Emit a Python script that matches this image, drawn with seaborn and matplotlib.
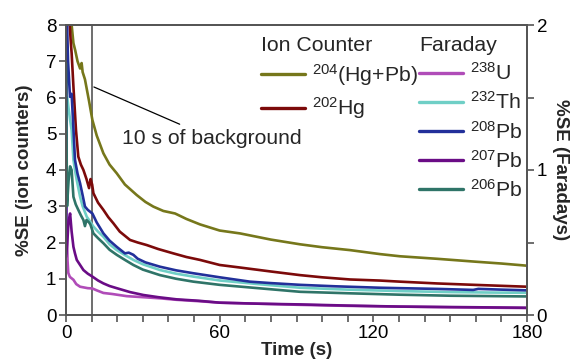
import matplotlib
matplotlib.use("Agg")
import matplotlib.pyplot as plt
from matplotlib.ticker import MultipleLocator
import seaborn as sns
import pandas as pd

# ---------------- data ----------------
# Ion counter series (left axis, %SE ion counters)
t_204 = [1.5, 2.2, 2.9, 3.6, 4.5, 5.5, 6.1, 6.5, 7.4, 8.2, 9.0, 10.3, 12, 14.6, 17, 19.8,
         23, 27.6, 31, 34.1, 38, 42.6, 47, 52.3, 60, 68, 80, 91.4, 100, 110.9, 122.6,
         130.4, 145, 160, 170, 180]
se_204 = [8.3, 8.0, 7.5, 7.3, 7.0, 6.8, 6.95, 6.7, 6.5, 6.2, 5.9, 5.38, 4.95, 4.46, 4.15,
          3.91, 3.6, 3.31, 3.12, 2.99, 2.87, 2.80, 2.65, 2.50, 2.33, 2.25, 2.08, 1.95, 1.87,
          1.79, 1.68, 1.62, 1.55, 1.47, 1.42, 1.36]

t_202 = [1.2, 1.8, 2.2, 2.9, 3.9, 4.8, 5.8, 6.8, 8.0, 9.0, 9.6, 10.2, 10.7, 12.5, 14.6,
         16.5, 18.5, 21, 25, 28, 31.5, 36, 41.9, 47, 52.3, 60, 67.9, 80, 91.4, 100, 110.9,
         122.6, 130.4, 145, 160, 180]
se_202 = [8.3, 7.6, 7.22, 6.3, 5.1, 4.37, 4.15, 4.0, 3.75, 3.5, 3.75, 3.6, 3.36, 3.1, 2.90,
          2.70, 2.53, 2.30, 2.07, 2.0, 1.93, 1.82, 1.70, 1.60, 1.52, 1.38, 1.31, 1.20, 1.10,
          1.04, 0.98, 0.95, 0.92, 0.87, 0.83, 0.78]

# Faraday series (right axis, %SE Faradays)
t_238 = [0.0, 0.3, 0.6, 0.9, 1.5, 2.9, 4.0, 5.5, 7.0, 8.5, 10.3, 12, 14.6, 18, 23.7, 30,
         36.7, 43, 52, 60, 75, 91.4, 110, 130, 150, 180]
se_238 = [1.35, 0.625, 0.375, 0.29, 0.263, 0.243, 0.213, 0.195, 0.19, 0.185, 0.183, 0.17,
          0.152, 0.145, 0.13, 0.123, 0.115, 0.105, 0.095, 0.085, 0.078, 0.07, 0.063, 0.058,
          0.053, 0.048]

t_232 = [0.5, 1.0, 1.6, 2.2, 2.9, 3.5, 4.2, 5.5, 6.5, 8.1, 9.2, 10.7, 12.5, 14.6, 17, 19.8,
         23, 26.3, 30, 36.7, 43, 49.7, 60, 75, 91.4, 110, 130.4, 150, 165, 180]
se_232 = [1.5, 1.425, 1.345, 1.275, 1.07, 1.0, 0.93, 0.815, 0.75, 0.678, 0.65, 0.61, 0.575,
          0.54, 0.488, 0.448, 0.413, 0.38, 0.35, 0.31, 0.285, 0.265, 0.238, 0.213, 0.188,
          0.175, 0.165, 0.158, 0.155, 0.153]

t_208 = [0.0, 0.3, 0.8, 1.56, 2.2, 2.6, 3.0, 3.5, 4.5, 5.5, 6.5, 7.4, 8.5, 10.3, 12, 14.6,
         17, 19.8, 23, 24.5, 26.3, 28, 31, 36.7, 43, 49.7, 60, 71.8, 80, 91.4, 105, 122.6,
         130.4, 145, 159, 161, 170, 180]
se_208 = [0.42, 2.08, 1.75, 1.505, 1.525, 1.39, 1.25, 1.07, 0.975, 0.908, 0.825, 0.748,
          0.725, 0.70, 0.638, 0.563, 0.513, 0.47, 0.425, 0.43, 0.415, 0.388, 0.363, 0.333,
          0.308, 0.288, 0.26, 0.23, 0.22, 0.208, 0.198, 0.188, 0.185, 0.18, 0.173, 0.18,
          0.175, 0.17]

t_207 = [0.0, 0.5, 1.0, 1.6, 2.2, 2.9, 3.5, 4.2, 5.5, 6.8, 8.5, 10.3, 12.5, 14.6, 17, 19.8,
         25, 30.2, 36, 43.2, 52, 60, 75, 91.4, 110, 130.4, 150, 180]
se_207 = [0.40, 0.50, 0.65, 0.70, 0.575, 0.47, 0.425, 0.38, 0.345, 0.31, 0.285, 0.265,
          0.238, 0.218, 0.20, 0.185, 0.158, 0.138, 0.123, 0.108, 0.098, 0.085, 0.078, 0.073,
          0.065, 0.058, 0.055, 0.05]

t_206 = [0.0, 0.4, 1.0, 1.6, 2.2, 2.9, 3.8, 4.8, 5.8, 6.8, 7.4, 8.0, 9.0, 9.5, 10.7, 12.5,
         14.6, 17, 19.8, 23, 26.3, 30, 36.7, 43, 49.7, 60, 75, 91.4, 110, 130.4, 150, 180]
se_206 = [1.738, 0.75, 0.925, 1.025, 1.0, 0.815, 0.763, 0.725, 0.688, 0.655, 0.613, 0.655,
          0.638, 0.625, 0.563, 0.53, 0.495, 0.45, 0.415, 0.38, 0.345, 0.313, 0.275, 0.25,
          0.23, 0.208, 0.185, 0.16, 0.15, 0.14, 0.133, 0.128]

background_end = 10  # s

ion_series = [
    ("$^{204}$(Hg+Pb)", t_204, se_204, "#76771b"),
    ("$^{202}$Hg", t_202, se_202, "#7c0a0a"),
]
far_series = [
    ("$^{238}$U", t_238, se_238, "#b04cb8"),
    ("$^{232}$Th", t_232, se_232, "#6fcfc6"),
    ("$^{208}$Pb", t_208, se_208, "#22309a"),
    ("$^{207}$Pb", t_207, se_207, "#6a0c86"),
    ("$^{206}$Pb", t_206, se_206, "#2f7468"),
]

# ---------------- style ----------------
sns.set_style("ticks")
plt.rcParams["font.family"] = ["Liberation Sans", "DejaVu Sans"]
plt.rcParams["mathtext.fontset"] = "custom"
plt.rcParams["mathtext.rm"] = "Liberation Sans"
plt.rcParams["mathtext.it"] = "Liberation Sans:italic"
plt.rcParams["mathtext.bf"] = "Liberation Sans:bold"

spine_col = "#555555"

fig = plt.figure(figsize=(5.75, 3.6), dpi=100)
ax = fig.add_axes([66 / 575, 1 - 315 / 360, (527 - 66) / 575, (315 - 25) / 360])
ax2 = ax.twinx()

lw = 1.9
ion_handles = []
for name, t, v, c in ion_series:
    df = pd.DataFrame({"t": t, "v": v})
    sns.lineplot(data=df, x="t", y="v", ax=ax, color=c, lw=lw, label=name, legend=False)
    ion_handles.append(ax.lines[-1])

far_handles = []
for name, t, v, c in far_series:
    df = pd.DataFrame({"t": t, "v": v})
    sns.lineplot(data=df, x="t", y="v", ax=ax2, color=c, lw=lw, label=name, legend=False)
    far_handles.append(ax2.lines[-1])

ax.axvline(background_end, color=spine_col, lw=1.2, zorder=1)

ax.set_xlim(0, 180)
ax.set_ylim(0, 8)
ax2.set_ylim(0, 2)

ax.set_xticks([0, 60, 120, 180])
ax.xaxis.set_minor_locator(MultipleLocator(10))
ax.set_yticks(range(0, 9))
ax2.set_yticks([0, 1, 2])
ax2.yaxis.set_minor_locator(MultipleLocator(0.5))

for a in (ax, ax2):
    for s in a.spines.values():
        s.set_visible(True)
        s.set_color(spine_col)
        s.set_linewidth(1.3)
    a.tick_params(which="both", direction="out", length=5, width=1.2, color=spine_col,
                  labelsize=13.5, labelcolor="black", pad=2)

ax.set_xlabel("Time (s)", fontsize=13.5, fontweight="bold", labelpad=0)
ax.set_ylabel("%SE (ion counters)", fontsize=13.5, fontweight="bold", labelpad=9)
ax2.set_ylabel("%SE (Faradays)", fontsize=13.5, fontweight="bold", rotation=270, labelpad=16)

ax.annotate("10 s of background", xy=(10.9, 6.29), xytext=(21.8, 4.88),
            fontsize=15.2, ha="left", va="center",
            arrowprops=dict(arrowstyle="-", color="black", lw=0.9, shrinkA=2, shrinkB=0))

leg_kw = dict(frameon=False, fontsize=15.3, title_fontsize=15.3, handlelength=2.05,
              handletextpad=0.35, labelspacing=0.34, borderaxespad=0, borderpad=0,
              alignment="left", loc="upper left")
leg1 = ax2.legend(ion_handles, [h.get_label() for h in ion_handles], title="Ion Counter",
                  bbox_to_anchor=((261 - 66) / 461, (315 - 36) / 290), **leg_kw)
ax2.add_artist(leg1)
leg2 = ax2.legend(far_handles, [h.get_label() for h in far_handles], title="Faraday",
                  bbox_to_anchor=((419 - 66) / 461, (315 - 36) / 290), **leg_kw)
for lg in (leg1, leg2):
    for ln in lg.get_lines():
        ln.set_linewidth(2.4)

fig.savefig("out.png", dpi=100)
